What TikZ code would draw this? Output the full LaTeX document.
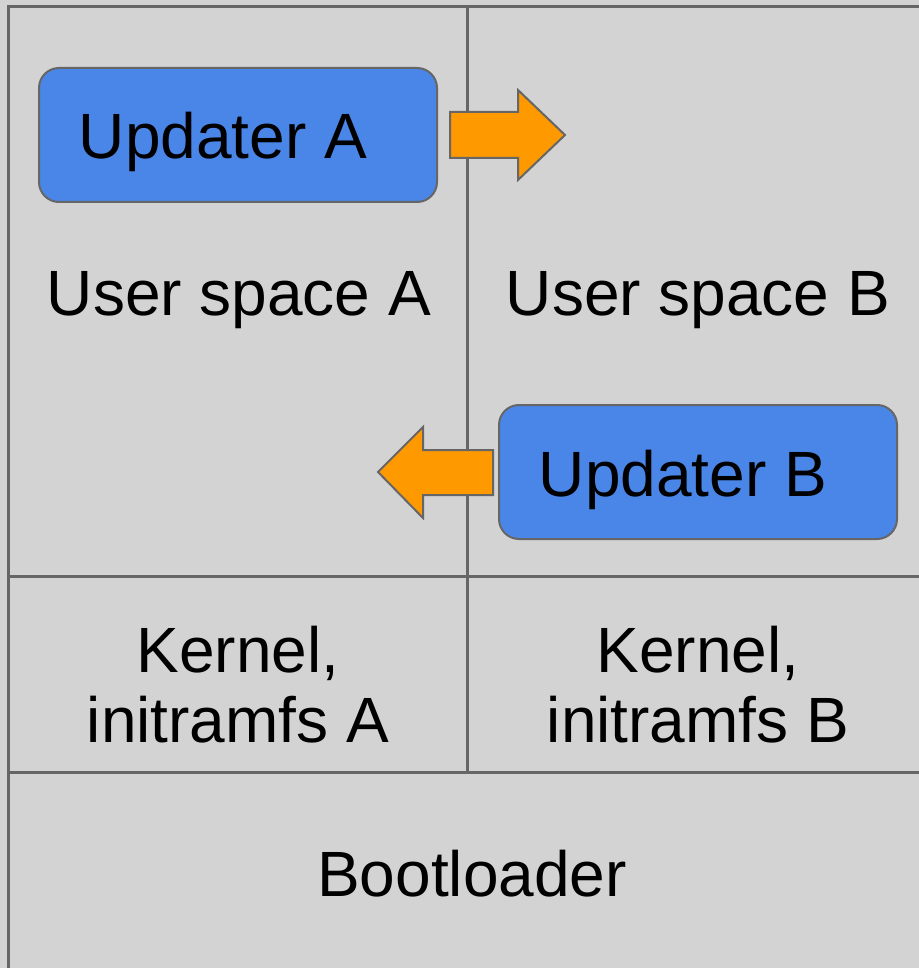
\documentclass[tikz,border=0pt]{standalone}
\usepackage{fontspec}
\setmainfont{Liberation Sans}
\usepackage{tikz}
\definecolor{partgray}{RGB}{211,211,211}
\definecolor{linegray}{RGB}{102,102,102}
\definecolor{updblue}{RGB}{74,134,232}
\definecolor{arrorange}{RGB}{255,153,0}

\tikzset{
  updbox/.style={draw=linegray, line width=1pt, fill=updblue, rounded corners=10pt,
                 minimum width=199pt, minimum height=67pt, inner sep=0pt},
  parttext/.style={font=\fontsize{32}{38}\selectfont, align=center, inner sep=0pt},
  blockarrow/.style={draw=linegray, line width=1pt, fill=arrorange, line join=miter}
}

\begin{document}
\begin{tikzpicture}[x=0.5pt, y=-0.5pt]

\useasboundingbox (0,0) rectangle (919,968);
\clip (0,0) rectangle (919,968);

% =============================================================================
% PARTITIONS
% =============================================================================
\fill[partgray] (0,0) rectangle (919,968);
\draw[linegray, line width=1.5pt] (8,990) -- (8,7) -- (940,7);
\draw[linegray, line width=1.5pt] (467,7) -- (467,772);
\draw[linegray, line width=1.5pt] (8,576) -- (940,576);
\draw[linegray, line width=1.5pt] (8,772) -- (940,772);

% =============================================================================
% UPDATERS
% =============================================================================
\node[updbox] (boxA) at (238,135) {};
\node[parttext] (updA) at (223,142) {Updater A};

\node[updbox] (boxB) at (698,472) {};
\node[parttext] (updB) at (683,480) {Updater B};

% Fleches
\draw[blockarrow] (450,112) -- (518,112) -- (518,90) -- (565,135)
  -- (518,180) -- (518,158) -- (450,158) -- cycle;
\draw[blockarrow] (493,450) -- (423,450) -- (423,427) -- (378,472)
  -- (423,518) -- (423,495) -- (493,495) -- cycle;

% =============================================================================
% TEXTES
% =============================================================================
\node[parttext] (usA) at (239,300) {User space A};
\node[parttext] (usB) at (698,300) {User space B};

\node[parttext] (kerA) at (238,685) {Kernel,\\[-3pt]initramfs A};
\node[parttext] (kerB) at (698,685) {Kernel,\\[-3pt]initramfs B};

\node[parttext] (boot) at (472,874) {Bootloader};

\end{tikzpicture}
\end{document}
